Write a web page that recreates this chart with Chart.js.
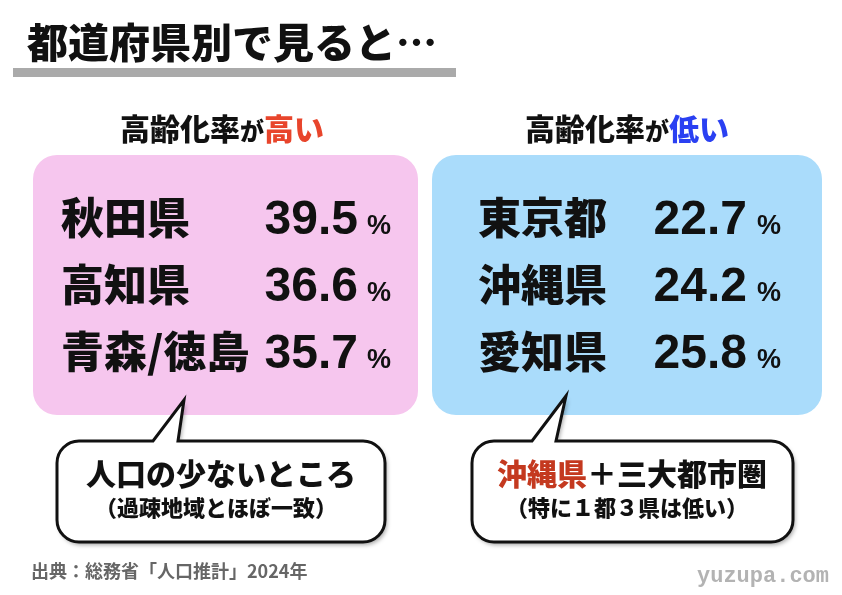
<!DOCTYPE html>
<html>
<head>
<meta charset="utf-8">
<script src="https://cdn.jsdelivr.net/npm/chart.js@4"></script>
<style>
  html, body { margin: 0; padding: 0; background: #fff; }
  #board { display: block; }
</style>
</head>
<body>
<canvas id="board" width="842" height="595"></canvas>
<script>
// data
var ranks = ['1', '2', '3'];
var prefHigh = ['秋田県', '高知県', '青森/徳島'];
var rateHigh = [39.5, 36.6, 35.7];
var prefLow = ['東京都', '沖縄県', '愛知県'];
var rateLow = [22.7, 24.2, 25.8];

var JP = '"Noto Sans CJK JP", "Noto Sans", sans-serif';
var NUM = '"Liberation Sans", Arial, sans-serif';

function roundRect(ctx, x, y, w, h, r) {
    ctx.beginPath();
    ctx.moveTo(x + r, y);
    ctx.arcTo(x + w, y, x + w, y + h, r);
    ctx.arcTo(x + w, y + h, x, y + h, r);
    ctx.arcTo(x, y + h, x, y, r);
    ctx.arcTo(x, y, x + w, y, r);
    ctx.closePath();
}

// rounded box with a tail pointing up
function bubble(ctx, x, y, w, h, r, t1, t2, px, py) {
    ctx.beginPath();
    ctx.moveTo(x + r, y);
    ctx.lineTo(t1, y);
    ctx.lineTo(px, py);
    ctx.lineTo(t2, y);
    ctx.arcTo(x + w, y, x + w, y + h, r);
    ctx.arcTo(x + w, y + h, x, y + h, r);
    ctx.arcTo(x, y + h, x, y, r);
    ctx.arcTo(x, y, x + w, y, r);
    ctx.closePath();
}

// draws text pieces on one baseline, centred on cx
function pieces(ctx, parts, cx, y) {
    var total = 0;
    parts.forEach(function(p) {
        ctx.font = p.font;
        p.w = ctx.measureText(p.t).width;
        total += p.w;
    });
    var x = cx - total / 2;
    ctx.textAlign = 'left';
    ctx.textBaseline = 'alphabetic';
    parts.forEach(function(p) {
        ctx.font = p.font;
        ctx.fillStyle = p.color;
        ctx.fillText(p.t, x, y);
        x += p.w;
    });
}

var boardPlugin = {
    id: 'board',
    afterDraw: function(chart) {
        var ctx = chart.ctx;
        var yScale = chart.scales.y;
        ctx.save();

        // title
        ctx.fillStyle = '#111';
        ctx.font = '900 41px ' + JP;
        ctx.textAlign = 'left';
        ctx.textBaseline = 'middle';
        ctx.fillText('都道府県別で見ると…', 27, 42);
        ctx.fillStyle = '#aaaaaa';
        ctx.fillRect(13, 68, 443, 9);

        // headings
        pieces(ctx, [
            {t: '高齢化率', font: '900 30px ' + JP, color: '#111'},
            {t: 'が', font: '900 24px ' + JP, color: '#111'},
            {t: '高い', font: '900 30px ' + JP, color: '#e8452c'}
        ], 222, 140);
        pieces(ctx, [
            {t: '高齢化率', font: '900 30px ' + JP, color: '#111'},
            {t: 'が', font: '900 24px ' + JP, color: '#111'},
            {t: '低い', font: '900 30px ' + JP, color: '#2a40f2'}
        ], 627, 140);

        // panels
        ctx.fillStyle = '#f6c6ee';
        roundRect(ctx, 33, 155, 385, 260, 24);
        ctx.fill();
        ctx.fillStyle = '#aadcfb';
        roundRect(ctx, 432, 155, 390, 260, 24);
        ctx.fill();

        // rows
        ranks.forEach(function(r, i) {
            var y = yScale.getPixelForValue(i);
            ctx.fillStyle = '#111';
            ctx.textBaseline = 'middle';
            ctx.textAlign = 'left';
            ctx.font = '900 43px ' + JP;
            ctx.fillText(prefHigh[i], 61, y);
            ctx.fillText(prefLow[i], 478, y);

            ctx.textBaseline = 'alphabetic';
            ctx.textAlign = 'right';
            ctx.font = 'bold 48px ' + NUM;
            ctx.fillText(rateHigh[i].toFixed(1), 358, y + 16);
            ctx.fillText(rateLow[i].toFixed(1), 747, y + 16);
            ctx.textAlign = 'left';
            ctx.font = 'bold 27px ' + NUM;
            ctx.fillText('%', 367, y + 16);
            ctx.fillText('%', 757, y + 16);
        });

        // speech bubbles
        [[57, 441, 328, 101, 153, 178, 184, 400],
         [472, 441, 321, 101, 532, 556, 566, 396]].forEach(function(b) {
            ctx.save();
            bubble(ctx, b[0], b[1], b[2], b[3], 22, b[4], b[5], b[6], b[7]);
            ctx.shadowColor = 'rgba(0,0,0,0.35)';
            ctx.shadowBlur = 4;
            ctx.shadowOffsetX = 2;
            ctx.shadowOffsetY = 3;
            ctx.fillStyle = '#fff';
            ctx.fill();
            ctx.restore();
            bubble(ctx, b[0], b[1], b[2], b[3], 22, b[4], b[5], b[6], b[7]);
            ctx.lineWidth = 3;
            ctx.strokeStyle = '#111';
            ctx.lineJoin = 'miter';
            ctx.stroke();
        });

        pieces(ctx, [{t: '人口の少ないところ', font: '900 30px ' + JP, color: '#111'}], 221, 485);
        pieces(ctx, [{t: '（過疎地域とほぼ一致）', font: '900 22px ' + JP, color: '#111'}], 216, 516);
        pieces(ctx, [
            {t: '沖縄県', font: '900 30px ' + JP, color: '#c4391f'},
            {t: '＋三大都市圏', font: '900 30px ' + JP, color: '#111'}
        ], 632, 485);
        pieces(ctx, [{t: '（特に１都３県は低い）', font: '900 22px ' + JP, color: '#111'}], 627, 516);

        // footer
        ctx.fillStyle = '#666';
        ctx.font = 'bold 18px ' + JP;
        ctx.textAlign = 'left';
        ctx.textBaseline = 'middle';
        ctx.fillText('出典：総務省「人口推計」2024年', 31, 571);
        ctx.fillStyle = '#b3b3b3';
        ctx.font = 'bold 22px "Liberation Mono", "DejaVu Sans Mono", monospace';
        ctx.textAlign = 'right';
        ctx.fillText('yuzupa.com', 829, 576);

        ctx.restore();
    }
};

new Chart(document.getElementById('board'), {
    type: 'bar',
    data: {
        labels: ranks,
        datasets: [
            {label: '高い', data: rateHigh, backgroundColor: 'rgba(0,0,0,0)'},
            {label: '低い', data: rateLow, backgroundColor: 'rgba(0,0,0,0)'}
        ]
    },
    options: {
        indexAxis: 'y',
        responsive: false,
        animation: false,
        events: [],
        layout: {padding: {top: 184, bottom: 210, left: 0, right: 0}},
        plugins: {legend: {display: false}, tooltip: {enabled: false}},
        scales: {
            x: {display: false, min: 0, max: 50},
            y: {display: false}
        }
    },
    plugins: [boardPlugin]
});
</script>
</body>
</html>
